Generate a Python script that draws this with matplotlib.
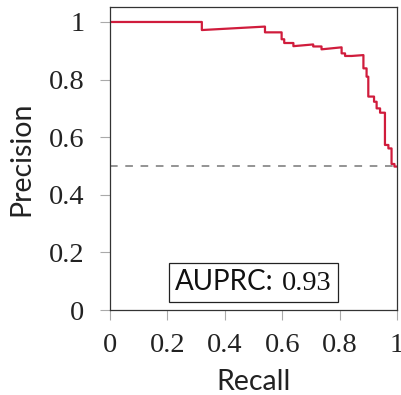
import matplotlib
matplotlib.use("Agg")
import matplotlib.pyplot as plt
from matplotlib.offsetbox import AnchoredOffsetbox, HPacker, TextArea

# PR curve vertices (vertical drops repeat the recall value)
recall = [0.0, 0.32, 0.32, 0.54, 0.54, 0.598, 0.598, 0.607, 0.607, 0.639, 0.639,
          0.708, 0.708, 0.737, 0.737, 0.807, 0.807, 0.819, 0.819, 0.842, 0.883,
          0.883, 0.894, 0.894, 0.900, 0.900, 0.920, 0.920, 0.929, 0.929, 0.941,
          0.941, 0.958, 0.958, 0.970, 0.970, 0.981, 0.981, 0.991, 0.991, 1.0]
precision = [1.0, 1.0, 0.972, 0.984, 0.964, 0.964, 0.940, 0.940, 0.927, 0.927, 0.916,
             0.922, 0.915, 0.915, 0.905, 0.912, 0.891, 0.891, 0.882, 0.882, 0.885,
             0.839, 0.839, 0.810, 0.810, 0.741, 0.741, 0.723, 0.723, 0.700, 0.700,
             0.685, 0.685, 0.573, 0.573, 0.561, 0.561, 0.507, 0.507, 0.498, 0.498]
baseline = 0.5
auprc = 0.93
ticks = [0, 0.2, 0.4, 0.6, 0.8, 1]
tick_labels = ["0", "0.2", "0.4", "0.6", "0.8", "1"]

serif = "Liberation Serif"
sans = "Lato"
plt.rcParams["lines.scale_dashes"] = False

fig = plt.figure(figsize=(4.01, 3.95), dpi=100)
ax = fig.add_axes([110 / 401, 85 / 395, 287 / 401, 303 / 395])

ax.axhline(baseline, color="#777777", linewidth=1.1, dashes=(5.5, 5.5))
ax.plot(recall, precision, color="#d01c3c", linewidth=1.6)

ax.set_xlim(0, 1)
ax.set_ylim(0, 1.052)
ax.set_xticks(ticks)
ax.set_yticks(ticks)
ax.set_xticklabels(tick_labels, fontfamily=serif, fontsize=20.5)
ax.set_yticklabels(tick_labels, fontfamily=serif, fontsize=20.5)
ax.tick_params(direction="out", length=7.5, width=0.8, color="#aaaaaa",
               labelcolor="#222222")
ax.tick_params(axis="x", pad=9)
ax.tick_params(axis="y", pad=11)
for s in ax.spines.values():
    s.set_color("#333333")
    s.set_linewidth(0.9)

ax.set_xlabel("Recall", fontfamily=sans, fontsize=20.5, color="#222222", labelpad=8)
ax.set_ylabel("Precision", fontfamily=sans, fontsize=20.5, color="#222222", labelpad=10)

label = HPacker(children=[
    TextArea("AUPRC:", textprops=dict(fontfamily=sans, fontsize=20, color="#111111")),
    TextArea(f"{auprc:.2f}", textprops=dict(fontfamily=serif, fontsize=20.5, color="#111111")),
], sep=6, pad=0, align="baseline")
box = AnchoredOffsetbox(loc="lower center", child=label, pad=0.45, borderpad=0,
                        frameon=True, bbox_to_anchor=(0.5, 0.026),
                        bbox_transform=ax.transAxes)
box.patch.set_edgecolor("#222222")
box.patch.set_linewidth(0.9)
box.patch.set_boxstyle("square", pad=0)
ax.add_artist(box)

fig.savefig("out.png", dpi=100)
